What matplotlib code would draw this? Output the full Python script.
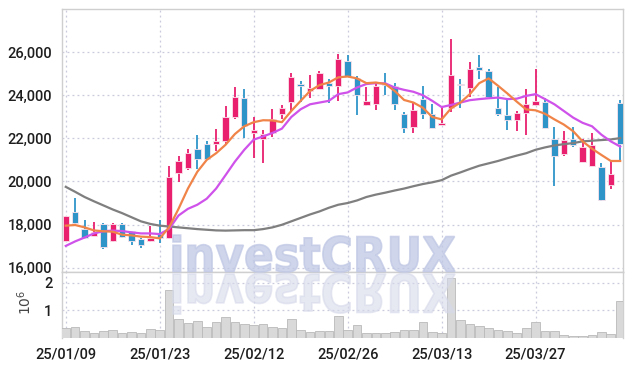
import numpy as np
import matplotlib
matplotlib.use("Agg")
import matplotlib.pyplot as plt
from matplotlib.textpath import TextPath
from matplotlib.patches import PathPatch
from matplotlib.font_manager import FontProperties
from matplotlib.transforms import Affine2D

plt.rcParams['font.family'] = ['Roboto', 'DejaVu Sans']

dates = ['25/01/09', '25/01/10', '25/01/13', '25/01/14', '25/01/15', '25/01/16', '25/01/17',
         '25/01/20', '25/01/21', '25/01/22', '25/01/23', '25/01/24', '25/01/31', '25/02/03',
         '25/02/04', '25/02/05', '25/02/06', '25/02/07', '25/02/10', '25/02/11', '25/02/12',
         '25/02/13', '25/02/14', '25/02/17', '25/02/18', '25/02/19', '25/02/20', '25/02/21',
         '25/02/24', '25/02/25', '25/02/26', '25/02/27', '25/02/28', '25/03/04', '25/03/05',
         '25/03/06', '25/03/07', '25/03/10', '25/03/11', '25/03/12', '25/03/13', '25/03/14',
         '25/03/17', '25/03/18', '25/03/19', '25/03/20', '25/03/21', '25/03/24', '25/03/25',
         '25/03/26', '25/03/27', '25/03/28', '25/03/31', '25/04/01', '25/04/02', '25/04/03',
         '25/04/04', '25/04/07', '25/04/08', '25/04/09']

opens = [17250, 18575, 17800, 17480, 18030, 17220, 18030, 17690, 17330, 17220,
         17560, 17380, 20370, 20640, 21500, 21740, 21740, 21890, 22990, 23860,
         22250, 21970, 22250, 23140, 23690, 24520, 24200, 24310, 24590, 24410,
         25610, 24780, 23530, 23580, 24520, 24410, 23110, 22520, 23820, 23110,
         22610, 23390, 24510, 24330, 25330, 25140, 23390, 23080, 22830, 23190,
         23530, 23690, 21990, 21270, 21990, 20920, 20720, 20680, 19830, 23630]
highs = [18420, 19250, 18200, 18100, 18050, 18050, 18050, 17720, 17380, 17950,
         18200, 20730, 21190, 21520, 22170, 21860, 22450, 23500, 24390, 24310,
         23000, 22400, 23370, 23530, 25020, 24670, 24950, 25110, 24750, 25890,
         25850, 24910, 24390, 24550, 25020, 24590, 23230, 23660, 24410, 23580,
         23450, 26630, 24750, 25530, 25850, 25220, 24360, 23820, 23270, 24280,
         25220, 23860, 22520, 22330, 22520, 21990, 22250, 20840, 21000, 23770]
lows = [17220, 18040, 17330, 17460, 16890, 17180, 17360, 17050, 16900, 17200,
        17150, 17350, 19980, 20530, 20560, 21000, 21390, 21700, 22880, 22000,
        21080, 20870, 22050, 22920, 23220, 23700, 23860, 24290, 23660, 23740,
        24850, 23080, 23520, 23310, 24010, 23310, 22250, 22250, 22920, 22460,
        22600, 23220, 23420, 23940, 24750, 23880, 23030, 22410, 22330, 22170,
        23500, 22460, 19800, 21200, 21610, 20900, 20700, 19110, 19670, 21000]
closes = [18400, 18060, 17380, 17670, 16950, 18030, 17440, 17250, 17070, 17360,
          17360, 20220, 20970, 21340, 21030, 21030, 21860, 22990, 23920, 22590,
          22370, 22220, 22920, 23390, 24860, 24410, 24330, 25020, 24410, 25690,
          24870, 24000, 23740, 24420, 24460, 23580, 22480, 23300, 23110, 22480,
          22720, 24950, 24470, 25220, 25190, 23900, 23110, 22830, 23160, 23610,
          23740, 22480, 21200, 21940, 21670, 21620, 21700, 19130, 20340, 21750]

ma_short = [17950, 17980, 17870, 17730, 17690, 17670, 17530, 17500, 17440, 17420,
            17360, 17870, 18730, 19670, 20450, 21000, 21310, 21700, 22200, 22560,
            22750, 22840, 22830, 22750, 23270, 23740, 24200, 24470, 24590, 24830,
            24870, 24780, 24560, 24590, 24520, 24200, 23780, 23660, 23420, 22990,
            22880, 23390, 23660, 24050, 24560, 24780, 24440, 24080, 23700, 23340,
            23300, 23140, 22880, 22640, 22330, 21860, 21520, 21230, 20950, 20950]
ma_mid = [17010, 17220, 17400, 17590, 17690, 17720, 17700, 17640, 17590, 17590,
          17560, 17800, 18420, 18730, 18920, 19200, 19670, 20290, 20920, 21470,
          21940, 22090, 22250, 22450, 22990, 23350, 23580, 23660, 23740, 24050,
          24130, 24360, 24520, 24560, 24550, 24360, 24250, 24160, 24000, 23740,
          23450, 23550, 23660, 23770, 23820, 23860, 23890, 23820, 23840, 23970,
          24050, 23820, 23580, 23270, 22960, 22720, 22560, 22170, 21860, 21620]
ma_long = [19750, 19520, 19280, 19080, 18890, 18700, 18530, 18340, 18150, 18030,
           17950, 17910, 17870, 17830, 17790, 17760, 17730, 17720, 17730, 17740,
           17740, 17790, 17870, 17990, 18150, 18310, 18470, 18610, 18780, 18920,
           19000, 19120, 19280, 19390, 19480, 19580, 19670, 19780, 19880, 19960,
           20060, 20270, 20420, 20580, 20730, 20840, 20950, 21080, 21200, 21310,
           21470, 21580, 21670, 21730, 21780, 21860, 21890, 21920, 21950, 22010]

volumes = [0.35, 0.39, 0.23, 0.17, 0.23, 0.27, 0.17, 0.19, 0.17, 0.32,
           0.28, 1.75, 0.68, 0.54, 0.60, 0.39, 0.56, 0.74, 0.56, 0.51,
           0.45, 0.51, 0.39, 0.33, 0.66, 0.29, 0.21, 0.24, 0.24, 0.79,
           0.29, 0.44, 0.18, 0.18, 0.15, 0.21, 0.29, 0.27, 0.57, 0.21,
           0.18, 2.18, 0.63, 0.50, 0.41, 0.33, 0.26, 0.22, 0.18, 0.33,
           0.57, 0.24, 0.22, 0.09, 0.05, 0.05, 0.09, 0.21, 0.12, 1.32]

up_color = '#e8206e'
down_color = '#2f95c8'
grid_color = '#c9cbdc'
spine_color = '#cfcfcf'
text_color = '#1e1e1e'

fig = plt.figure(figsize=(6.34, 3.66), dpi=100)
ax = fig.add_axes([62 / 634, 1 - 272 / 366, 561 / 634, 263 / 366])
axv = fig.add_axes([62 / 634, 1 - 337.5 / 366, 561 / 634, 65.5 / 366], sharex=ax)

x = np.arange(len(dates))
o = np.array(opens)
c = np.array(closes)
colors = [up_color if cc >= oo else down_color for oo, cc in zip(o, c)]

ax.vlines(x, lows, highs, colors=colors, linewidth=1.3, zorder=3)
body_bottom = np.minimum(o, c)
body_h = np.maximum(np.abs(c - o), 50)
ax.bar(x, body_h, bottom=body_bottom, width=0.68, color=colors,
       edgecolor='#fbe3ec', linewidth=0.6, zorder=4)

ax.plot(x, ma_long, color='#7f7f7f', linewidth=1.6, zorder=5)
ax.plot(x, ma_mid, color='#cf52ea', linewidth=1.6, zorder=5)
ax.plot(x, ma_short, color='#f08448', linewidth=1.6, zorder=5)

axv.bar(x, volumes, width=0.92, color='#d9d9d9', edgecolor='#b9b9b9', linewidth=0.6, zorder=3)

ax.set_xlim(-0.4, 59.3)
ax.set_ylim(15800, 28000)
ax.set_yticks([16000, 18000, 20000, 22000, 24000, 26000])
ax.set_yticklabels(['16,000', '18,000', '20,000', '22,000', '24,000', '26,000'])
axv.set_ylim(0, 2.4)
axv.set_yticks([1, 2])
axv.set_yticklabels(['1', '2'])

ticks = list(range(0, 60, 10))
axv.set_xticks(ticks)
axv.set_xticklabels([dates[t] for t in ticks])
ax.tick_params(axis='x', labelbottom=False, length=0)

for a in (ax, axv):
    a.grid(True, color=grid_color, linestyle=(0, (1.5, 2.5)), linewidth=0.9, zorder=0)
    a.set_axisbelow(True)
    a.tick_params(length=0, labelsize=10.5, colors=text_color, pad=7)
    for lbl in a.get_xticklabels() + a.get_yticklabels():
        lbl.set_fontweight('medium')
    for s in a.spines.values():
        s.set_color(spine_color)
        s.set_linewidth(1.0)
axv.spines['bottom'].set_visible(False)

axv.set_ylabel('$10^6$', fontsize=10, color='#444444')
axv.yaxis.set_label_coords(-0.05, 0.53)

# watermark with its reflection
tp = TextPath((0, 0), 'investCRUX', size=1, prop=FontProperties(family='DejaVu Sans', weight='bold'))
ext = tp.get_extents()
sx = 282 / ext.width
sy = 35 / 0.73
top_tr = Affine2D().translate(-ext.x0, 0).scale(sx, sy).translate(173, 366 - 271.5)
bot_tr = Affine2D().translate(-ext.x0, 0).scale(sx, -sy * 1.1).translate(173, 366 - 274)
fig.add_artist(PathPatch(tp, transform=top_tr, facecolor='#bfc7e4', edgecolor='#bfc7e4',
                         linewidth=1.2, alpha=0.75, zorder=6))
fig.add_artist(PathPatch(tp, transform=bot_tr, facecolor='#d6d9ea', edgecolor='#d6d9ea',
                         linewidth=1.2, alpha=0.6, zorder=6))

fig.savefig('out.png', dpi=100)
